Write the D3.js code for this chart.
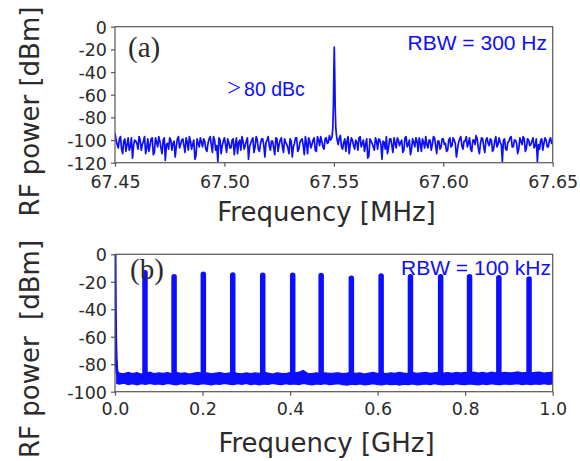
<!DOCTYPE html>
<html><head><meta charset="utf-8">
<script src="https://cdn.jsdelivr.net/npm/d3@7"></script>
<style>body{margin:0;background:#fff}svg{display:block}</style>
</head><body>
<svg id="c" width="580" height="461"></svg>
<script>
// ---------- Panel (a) data ----------
const freqAStart = 67.45, freqAStep = 0.001;
// samples on the 1 kHz grid
const powerA = [
 -94,-104,-99,-108,-101,-110,-98,-106,-116,-100,
 -103,-97,-109,-101,-112,-99,-105,-98,-111,-102,
 -97,-107,-100,-118,-103,-98,-109,-101,-106,-97,
 -104,-99,-111,-102,-97,-108,-100,-114,-103,-98,
 -106,-101,-110,-99,-104,-97,-109,-119,-100,-105,
 -98,-111,-102,-107,-99,-104,-112,-100,-97,-108,
 -101,-117,-103,-98,-106,-100,-110,-99,-105,-102,
 -97,-109,-101,-113,-99,-104,-98,-111,-102,-107,
 -99,-115,-103,-98,-108,-100,-105,-97,-112,-101,
 -104,-98,-110,-100,-97,-106,-99,-103,-96,-98,
 -95,-97,-104,-96,-108,-99,-101,-112,-98,-105,
 -100,-109,-97,-103,-110,-99,-114,-101,-106,-98,
 -108,-100,-117,-102,-97,-107,-99,-111,-103,-98,
 -105,-100,-109,-97,-104,-113,-99,-106,-101,-98,
 -110,-102,-97,-107,-100,-104,-98,-112,-101,-106,
 -99,-103,-109,-98,-105,-100,-115,-102,-97,-108,
 -101,-106,-98,-110,-100,-96,-107,-103,-99,-111,
 -98,-105,-100,-108,-97,-104,-102,-119,-99,-109,
 -101,-97,-106,-100,-112,-98,-104,-99,-107,-100,
 -104,-98,-105,-119,-108,-99,-103,-100,-106,-98,
 -101
];
// samples half-way between the grid points
const powerAMid = [
 -100,-107,-97,-112,-99,-104,-109,-98,-105,-101,
 -108,-100,-104,-97,-107,-110,-99,-113,-98,-106,
 -101,-112,-98,-104,-108,-100,-103,-115,-99,-107,
 -100,-105,-98,-109,-101,-104,-117,-99,-106,-102,
 -99,-108,-103,-97,-111,-100,-105,-98,-112,-101,
 -104,-99,-107,-100,-113,-98,-102,-109,-101,-105,
 -98,-106,-100,-111,-97,-108,-103,-99,-115,-100,
 -105,-101,-107,-98,-110,-100,-106,-99,-104,-112,
 -101,-106,-98,-110,-102,-99,-113,-103,-98,-107,
 -100,-109,-97,-105,-101,-108,-98,-102,-100,-97,
 -96,-100,-98,-106,-102,-110,-97,-104,-100,-108,
 -102,-98,-106,-100,-104,-116,-99,-103,-109,-101,
 -99,-104,-101,-108,-112,-99,-105,-98,-107,-100,
 -102,-111,-98,-106,-100,-108,-102,-98,-110,-103,
 -99,-107,-104,-100,-109,-97,-105,-101,-108,-99,
 -104,-110,-100,-106,-98,-103,-108,-99,-105,-101,
 -97,-103,-108,-100,-104,-99,-112,-98,-106,-100,
 -103,-99,-110,-101,-106,-98,-104,-100,-108,-102,
 -98,-106,-100,-103,-108,-101,-97,-110,-99,-105,
 -101,-107,-99,-104,-100,-109,-98,-106,-100,-103
];
const peakFreqA  = [67.5492, 67.5495, 67.5498, 67.5500, 67.5502, 67.5504, 67.5506, 67.5509, 67.5512];
const peakPowerA = [-97, -90, -70, -40, -18, -40, -70, -90, -96];
const xTicksA = [67.45, 67.50, 67.55, 67.60, 67.65];
const yTicksA = [0, -20, -40, -60, -80, -100, -120];

// ---------- Panel (b) data ----------
const spikeFreqB = [0.0685, 0.135, 0.2018, 0.269, 0.3375, 0.406, 0.471, 0.540, 0.608, 0.675, 0.744, 0.810, 0.877, 0.946];
const spikeTopB  = [-13.4, -16.3, -14.6, -15.1, -15.3, -15.3, -15.5, -17.5, -15.8, -16.3, -16.3, -16.3, -17.0, -18.0];
const dcFreqB  = [0, 0.0008, 0.0015, 0.0025, 0.004, 0.006];
const dcPowerB = [0, -40, -62, -75, -84, -88];
const bandBStart = 0.01, bandBStep = 0.01;
const bandUpperB = [
 -86.5,-87,-86,-86.8,-86.2,-87.2,-86.4,-85.8,-86.9,-86.3,
 -86.7,-86.1,-87,-85.9,-86.6,-86.2,-87.1,-86.4,-86,-86.8,
 -86.3,-87,-86.5,-86.1,-86.9,-86.4,-85.9,-86.6,-87,-86.2,
 -86.8,-86.3,-86.7,-85.8,-86.5,-87.1,-86.2,-86.6,-86.9,-86.1,
 -86.4,-85.8,-84.5,-86.6,-86.9,-86.2,-86.8,-86.3,-86.7,-86.5,
 -86.2,-86.8,-86.4,-85.9,-86.7,-86.3,-87.1,-86.5,-86,-86.8,
 -86.4,-86.9,-86.2,-86.6,-85.9,-86.5,-86.8,-86.1,-86.7,-86.3,
 -86,-86.6,-86.2,-85.8,-86.5,-86.1,-86.7,-85.9,-86.4,-86,
 -86.3,-85.7,-86.4,-86,-86.6,-85.8,-86.2,-86.5,-85.9,-86.3,
 -86.1,-85.6,-86.3,-85.9,-86.5,-86,-85.7,-86.4,-86.1,-85.8
];
const bandLowerB = [
 -94.5,-93.8,-94.8,-94.2,-95,-94.1,-94.6,-93.9,-94.7,-94.3,
 -94.9,-94,-94.6,-95.1,-94.2,-94.7,-93.9,-94.5,-94.8,-94.1,
 -94.6,-95,-94.3,-94.7,-93.9,-94.5,-94.9,-94.2,-94.6,-94,
 -94.8,-94.3,-95.1,-94.4,-94.7,-94,-94.5,-94.9,-94.2,-94.6,
 -94.3,-94.8,-94,-94.6,-95,-94.4,-94.7,-94.1,-94.9,-94.5,
 -94.2,-94.8,-95.2,-94.5,-94.9,-94.3,-95,-94.6,-94.2,-94.8,
 -95.1,-94.4,-94.9,-94.6,-95.2,-94.5,-94.8,-94.3,-95,-94.7,
 -94.4,-94.9,-94.2,-94.7,-95,-94.5,-94.8,-94.1,-94.6,-94.9,
 -94.3,-94.7,-95,-94.4,-94.8,-94.2,-94.6,-94.9,-94.3,-94.7,
 -94.5,-94.1,-94.8,-94.4,-94.9,-94.3,-94.7,-94.2,-94.6,-94.4
];
const xTicksB = [0.0, 0.2, 0.4, 0.6, 0.8, 1.0];
const yTicksB = [0, -20, -40, -60, -80, -100];

// ---------- drawing ----------
const svg = d3.select('#c');
const BLUE = '#0d0dff', TXT = '#2b2b2b', FRAME = '#555';
const TICKFONT = 'DejaVu Sans', TITLEFONT = 'DejaVu Sans';

function panel(o) {
  const x = d3.scaleLinear().domain(o.xDomain).range([115, 552.7]);
  const y = d3.scaleLinear().domain(o.yDomain).range([o.bottom, o.top]);
  const g = svg.append('g');
  const clipId = 'clip' + o.id;
  svg.append('clipPath').attr('id', clipId).append('rect')
    .attr('x', 115).attr('y', o.top).attr('width', 437.7).attr('height', o.bottom - o.top);
  o.draw(g.append('g').attr('clip-path', `url(#${clipId})`), x, y);

  g.append('rect').attr('x', 115).attr('y', o.top).attr('width', 437.7).attr('height', o.bottom - o.top)
    .attr('fill', 'none').attr('stroke', FRAME).attr('stroke-width', 1.2);

  const ax = g.append('g').attr('transform', `translate(0,${o.bottom})`)
    .call(d3.axisBottom(x).tickValues(o.xTicks).tickFormat(o.xFmt).tickSize(4).tickSizeOuter(0));
  ax.select('.domain').remove();
  ax.selectAll('line').attr('stroke', FRAME).attr('stroke-width', 1.2);
  ax.selectAll('text').attr('dy', null).attr('y', o.xLabelDy)
    .attr('font-family', TICKFONT).attr('font-size', 17.5).attr('fill', TXT);

  const ay = g.append('g').attr('transform', 'translate(115,0)')
    .call(d3.axisLeft(y).tickValues(o.yTicks).tickFormat(d => String(d)).tickSize(4).tickSizeOuter(0).tickPadding(4));
  ay.select('.domain').remove();
  ay.selectAll('line').attr('stroke', FRAME).attr('stroke-width', 1.2);
  ay.selectAll('text').attr('dy', '0.36em')
    .attr('font-family', TICKFONT).attr('font-size', 17.5).attr('fill', TXT);

  svg.append('text').attr('x', 326.5).attr('y', o.xTitleY).attr('text-anchor', 'middle')
    .attr('font-family', TITLEFONT).attr('font-size', 26).attr('fill', TXT).text(o.xTitle);
  svg.append('text').attr('transform', `translate(39,${o.yTitleCY}) rotate(-90)`).attr('text-anchor', 'middle')
    .attr('font-family', TITLEFONT).attr('font-size', 26).attr('fill', TXT)
    .style('white-space', 'pre').text(o.yTitle);
  return {x, y, g};
}

// Panel (a)
panel({
  id: 'a', top: 26.7, bottom: 162.7, xDomain: [67.45, 67.65], yDomain: [-120, 0],
  xTicks: xTicksA, yTicks: yTicksA, xFmt: d3.format('.2f'), xLabelDy: 25.8,
  xTitle: 'Frequency [MHz]', xTitleY: 221, yTitle: 'RF power [dBm]', yTitleCY: 111.5,
  draw: (g, x, y) => {
    let pts = powerA.map((p, i) => [freqAStart + i * freqAStep, p])
      .concat(powerAMid.map((p, i) => [freqAStart + (i + 0.5) * freqAStep, p]))
      .filter(d => d[0] < 67.5491 || d[0] > 67.5514);
    pts = pts.concat(peakFreqA.map((f, i) => [f, peakPowerA[i]]));
    pts.sort((a, b) => a[0] - b[0]);
    g.append('path').attr('d', d3.line().x(d => x(d[0])).y(d => y(d[1]))(pts))
      .attr('fill', 'none').attr('stroke', BLUE).attr('stroke-width', 1.7).attr('stroke-linejoin', 'round');
  }
});
svg.append('text').attr('x', 128).attr('y', 57).attr('font-family', 'Liberation Serif')
  .attr('font-size', 29).attr('fill', TXT).text('(a)');
const dbc = svg.append('text').attr('x', 227).attr('y', 95.5).attr('fill', BLUE);
dbc.append('tspan').attr('font-family', 'Liberation Serif').attr('font-size', 25).text('>');
dbc.append('tspan').attr('dx', 3).attr('font-family', 'Liberation Sans').attr('font-size', 19.5).text('80 dBc');
svg.append('text').attr('x', 547).attr('y', 50).attr('text-anchor', 'end').attr('font-family', 'Liberation Sans')
  .attr('font-size', 21).attr('fill', BLUE).text('RBW = 300 Hz');

// Panel (b)
panel({
  id: 'b', top: 254.3, bottom: 391.7, xDomain: [0, 1], yDomain: [-100, 0],
  xTicks: xTicksB, yTicks: yTicksB, xFmt: d3.format('.1f'), xLabelDy: 23.3,
  xTitle: 'Frequency [GHz]', xTitleY: 452, yTitle: 'RF power  [dBm]', yTitleCY: 349,
  draw: (g, x, y) => {
    const band = bandUpperB.map((u, i) => ({f: bandBStart + i * bandBStep, u, l: bandLowerB[i]}));
    band.unshift({f: 0.004, u: -85, l: -94});
    g.append('path').attr('d', d3.area().x(d => x(d.f)).y0(d => y(d.l)).y1(d => y(d.u))(band))
      .attr('fill', BLUE).attr('stroke', BLUE).attr('stroke-width', 1.2);
    g.append('path').attr('d', d3.line().x(d => x(d)).y((d, i) => y(dcPowerB[i]))(dcFreqB))
      .attr('fill', 'none').attr('stroke', BLUE).attr('stroke-width', 3).attr('stroke-linejoin', 'round');
    g.selectAll('line.spk').data(spikeFreqB).join('line').attr('class', 'spk')
      .attr('x1', d => x(d)).attr('x2', d => x(d))
      .attr('y1', y(-88)).attr('y2', (d, i) => y(spikeTopB[i]))
      .attr('stroke', BLUE).attr('stroke-width', 5.5).attr('stroke-linecap', 'round');
  }
});
svg.append('text').attr('x', 130).attr('y', 279).attr('font-family', 'Liberation Serif')
  .attr('font-size', 29).attr('fill', TXT).text('(b)');
svg.append('text').attr('x', 551).attr('y', 275).attr('text-anchor', 'end').attr('font-family', 'Liberation Sans')
  .attr('font-size', 21).attr('fill', BLUE).text('RBW = 100 kHz');
</script>
</body></html>
